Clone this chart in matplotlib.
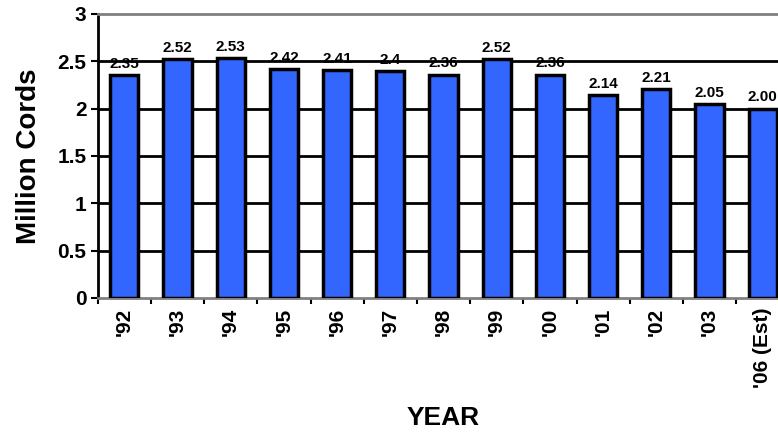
import matplotlib
matplotlib.use("Agg")
import matplotlib.pyplot as plt
import numpy as np

years = ["'92", "'93", "'94", "'95", "'96", "'97", "'98", "'99", "'00", "'01", "'02", "'03", "'06 (Est)"]
values = [2.35, 2.52, 2.53, 2.42, 2.41, 2.40, 2.36, 2.52, 2.36, 2.14, 2.21, 2.05, 2.00]
value_labels = ["2.35", "2.52", "2.53", "2.42", "2.41", "2.4", "2.36", "2.52", "2.36", "2.14", "2.21", "2.05", "2.00"]
yticks = [0, 0.5, 1, 1.5, 2, 2.5, 3]
ytick_labels = ["0", "0.5", "1", "1.5", "2", "2.5", "3"]

plt.rcParams['font.family'] = ['Liberation Sans', 'DejaVu Sans']

fig = plt.figure(figsize=(7.78, 4.33), dpi=100)
ax = fig.add_axes([0.1256, 0.3118, 0.889, 0.656])

x = np.arange(len(years))
ax.set_xlim(-0.5, len(years) - 0.5)
ax.set_ylim(0, 3)

for yv in yticks[1:-1]:
    ax.axhline(yv, color='black', lw=2, zorder=1)

ax.bar(x, values, width=0.53, color='#3366FF', edgecolor='black', linewidth=2.5, zorder=3)

for xi, v, lab in zip(x, values, value_labels):
    ax.annotate(lab, (xi, v), xytext=(0, 3), textcoords='offset points',
                ha='center', va='bottom', fontsize=11, fontweight='bold', zorder=2)

ax.set_yticks(yticks)
ax.set_yticklabels(ytick_labels, fontsize=15, fontweight='bold')
ax.set_xticks(x)
ax.set_xticklabels(years, rotation=90, fontsize=15, fontweight='bold')
ax.tick_params(axis='x', length=0, pad=7)
ax.set_xticks(np.arange(-0.5, len(years), 1), minor=True)
ax.tick_params(axis='x', which='minor', length=4, width=1.5, color='black', direction='out')
ax.tick_params(axis='y', length=5, width=1.5, color='black', direction='out', pad=3)

ax.spines['left'].set_color('black')
ax.spines['left'].set_linewidth(2)
for s in ['top', 'bottom', 'right']:
    ax.spines[s].set_color('#808080')
    ax.spines[s].set_linewidth(2)

ax.set_ylabel('Million Cords', fontsize=20, fontweight='bold', labelpad=11)
ax.set_xlabel('YEAR', fontsize=19, fontweight='bold', labelpad=13)

fig.savefig('out.png', dpi=100)
